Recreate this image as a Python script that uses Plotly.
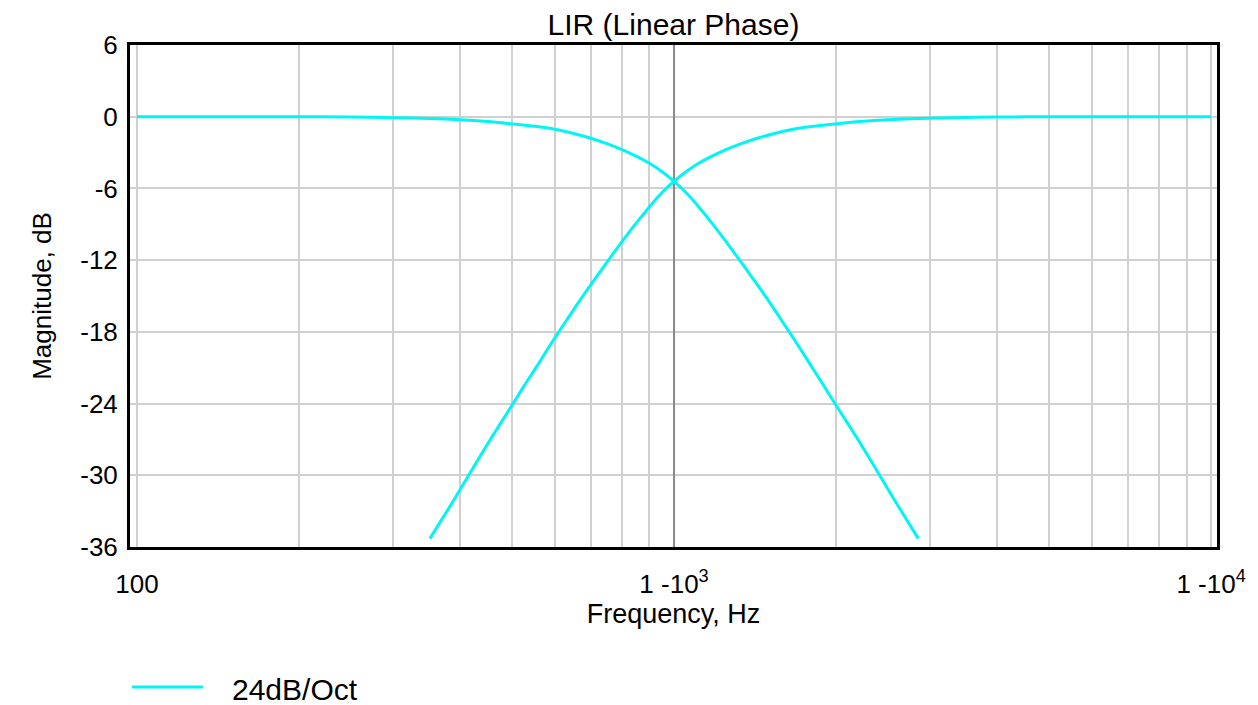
import plotly.graph_objects as go

# Low-pass branch (Hz, dB)
lp_freq = [100, 200, 250, 300, 350, 400, 450, 500, 550, 600, 650, 700, 750, 800, 850, 900, 950,
           1000, 1050, 1100, 1150, 1200, 1250, 1300, 1350, 1400, 1500, 1600, 1700, 1800, 1900,
           2000, 2200, 2400, 2600, 2850]
lp_db = [0, 0, -0.03, -0.08, -0.15, -0.25, -0.4, -0.6, -0.8, -1.05, -1.4, -1.8, -2.25, -2.75, -3.3,
         -3.9, -4.6, -5.4, -6.3, -7.3, -8.35, -9.4, -10.45, -11.5, -12.5, -13.5, -15.4, -17.3,
         -19.1, -20.85, -22.5, -24.1, -27.0, -29.8, -32.4, -35.3]

# High-pass branch (Hz, dB)
hp_freq = [351, 385, 417, 455, 500, 526, 556, 588, 625, 667, 714, 741, 769, 800, 833, 870, 909,
           952, 1000, 1053, 1111, 1176, 1250, 1333, 1429, 1538, 1667, 1818, 2000, 2222, 2500,
           2857, 3333, 4000, 5000, 10000]
hp_db = [-35.3, -32.4, -29.8, -27.0, -24.1, -22.5, -20.85, -19.1, -17.3, -15.4, -13.5, -12.5,
         -11.5, -10.45, -9.4, -8.35, -7.3, -6.3, -5.4, -4.6, -3.9, -3.3, -2.75, -2.25, -1.8, -1.4,
         -1.05, -0.8, -0.6, -0.4, -0.25, -0.15, -0.08, -0.03, 0, 0]

series_name = "24dB/Oct"
title_text = "LIR (Linear Phase)"
x_title = "Frequency, Hz"
y_title = "Magnitude, dB"

x_major = [100, 1000, 10000]
x_major_text = ["100", "1 -10<sup>3</sup>", "1 -10<sup>4</sup>"]
x_minor = [200, 300, 400, 500, 600, 700, 800, 900, 2000, 3000, 4000, 5000, 6000, 7000, 8000, 9000]
y_ticks = [6, 0, -6, -12, -18, -24, -30, -36]
y_tick_text = ["6", "0", "-6", "-12", "-18", "-24", "-30", "-36"]
center_freq = 1000

FONT = "Liberation Sans, Arial, Helvetica, sans-serif"
CYAN = "#00F5F5"
GRID = "#d0d0d0"

# page has an 8px body margin, so the figure is drawn 8px smaller and offset
W, H = 1250, 697
L, R, T, B = 122, 41, 37, 158
PW, PH = W - L - R, H - T - B

fig = go.Figure()

# darker reference line at the crossover frequency
fig.add_trace(go.Scatter(x=[center_freq, center_freq], y=[min(y_ticks), max(y_ticks)],
                         mode="lines", line=dict(color="#8a8a8a", width=2),
                         showlegend=False, hoverinfo="skip"))

fig.add_trace(go.Scatter(x=lp_freq, y=lp_db, mode="lines", name=series_name,
                         line=dict(color=CYAN, width=3, shape="spline", smoothing=0.6),
                         showlegend=False))
fig.add_trace(go.Scatter(x=hp_freq, y=hp_db, mode="lines", name=series_name,
                         line=dict(color=CYAN, width=3, shape="spline", smoothing=0.6),
                         showlegend=False))

fig.update_layout(
    width=W, height=H,
    margin=dict(l=L, r=R, t=T, b=B),
    paper_bgcolor="white", plot_bgcolor="white",
    font=dict(family=FONT, color="black"),
    title=dict(text=title_text, x=(L + PW / 2) / W, xanchor="center",
               y=1 - 16 / H, yanchor="middle", yref="container",
               font=dict(size=30, family=FONT, color="black")),
    showlegend=False,
)

fig.update_xaxes(
    type="log", range=[1.987, 4.011],
    tickvals=x_major, ticktext=x_major_text, ticks="", ticklabelstandoff=12,
    tickfont=dict(size=26, family=FONT, color="black"),
    showgrid=True, gridcolor=GRID, gridwidth=2,
    minor=dict(tickvals=x_minor, showgrid=True, gridcolor=GRID, gridwidth=2, ticks=""),
    showline=True, linecolor="black", linewidth=3, mirror=True,
    zeroline=False,
    title=dict(text=x_title, font=dict(size=27, family=FONT, color="black"), standoff=4),
)
fig.update_yaxes(
    range=[-36, 6], tickvals=y_ticks, ticktext=y_tick_text, ticks="", ticklabelstandoff=4,
    tickfont=dict(size=26, family=FONT, color="black"),
    showgrid=True, gridcolor=GRID, gridwidth=2,
    showline=True, linecolor="black", linewidth=3, mirror=True,
    zeroline=False,
    title=dict(text=y_title, font=dict(size=26, family=FONT, color="black"), standoff=22),
)

# legend drawn below the plot
fig.add_shape(type="line", xref="paper", yref="paper",
              x0=(132 - 130) / PW, x1=(203 - 130) / PW,
              y0=(547 - 687) / PH, y1=(547 - 687) / PH,
              line=dict(color=CYAN, width=3))
fig.add_annotation(text=series_name, xref="paper", yref="paper",
                   x=(230 - 130) / PW, y=(547 - 689) / PH,
                   xanchor="left", yanchor="middle", showarrow=False,
                   font=dict(size=30, family=FONT, color="black"))

fig.write_html("out.html")
